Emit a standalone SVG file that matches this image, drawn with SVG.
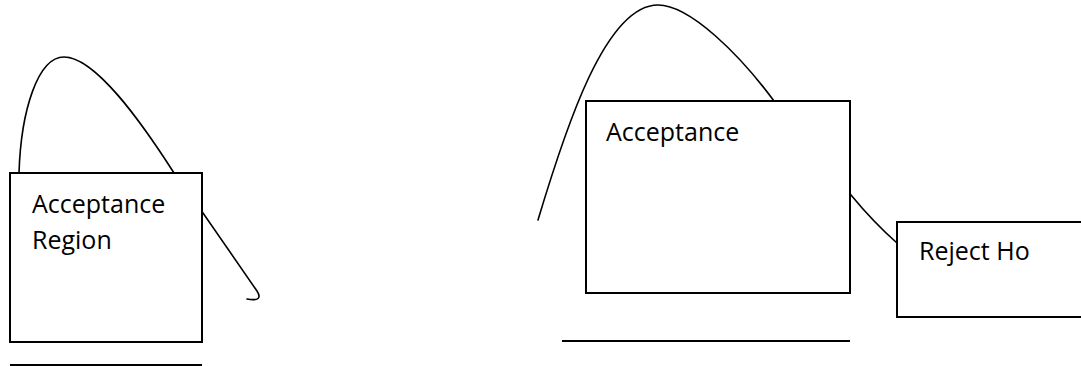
<svg xmlns="http://www.w3.org/2000/svg" width="1081" height="366" viewBox="0 0 1081 366">
<style>
.curve{fill:none;stroke:#000;stroke-width:1.6;stroke-linecap:round;stroke-linejoin:round}
.box{fill:#fff;stroke:#000;stroke-width:2}
.base{stroke:#000;stroke-width:2}
.lbl{font-family:"Open Sans","Noto Sans",sans-serif;font-size:25px;fill:#000}
</style>
<rect width="1081" height="366" fill="#fff"/>
<g id="connectors">
<path class="curve" d="M19,173 C21,110 38,57 64,57 C95,57 140,120 174,173 L203,213 L257,291 Q264,302 247,299"/>
<path class="curve" d="M538,220 C565,130 605,5 658,5 C690,5 740,55 774,101 L851,195 C865,212 880,228 897,243"/>
<line class="base" x1="10" y1="365" x2="202" y2="365"/>
<line class="base" x1="562" y1="341" x2="850" y2="341"/>
</g>
<g id="node-left">
<rect class="box" x="10" y="173" width="192" height="169"/>
<text class="lbl" x="32" y="213">Acceptance</text>
<text class="lbl" x="32" y="249">Region</text>
</g>
<g id="node-right">
<rect class="box" x="586" y="101" width="264" height="192"/>
<text class="lbl" x="606" y="141">Acceptance</text>
</g>
<g id="node-reject">
<rect class="box" x="897" y="222" width="190" height="95"/>
<text class="lbl" x="919" y="260">Reject Ho</text>
</g>
</svg>
